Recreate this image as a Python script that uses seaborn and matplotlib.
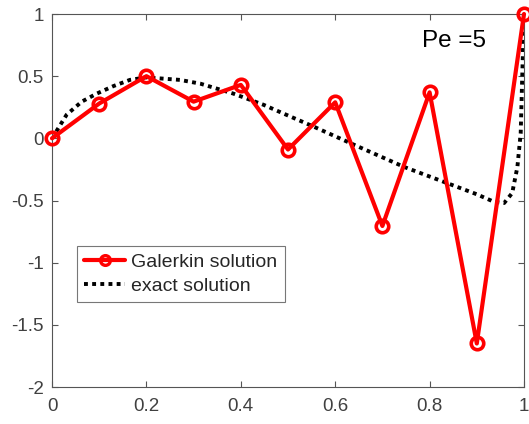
import numpy as np
import pandas as pd
import matplotlib
matplotlib.use("Agg")
import matplotlib.pyplot as plt
import seaborn as sns
from matplotlib.ticker import FuncFormatter

# Data
gal_x = [0.0, 0.1, 0.2, 0.3, 0.4, 0.5, 0.6, 0.7, 0.8, 0.9, 1.0]
gal_y = [0.0, 0.28, 0.50, 0.295, 0.43, -0.09, 0.29, -0.705, 0.37, -1.65, 1.0]

exact_x = [0.0, 0.031, 0.063, 0.095, 0.13, 0.165, 0.199, 0.236, 0.271, 0.314,
           0.384, 0.448, 0.49, 0.555, 0.633, 0.746, 0.837, 0.90, 0.936, 0.958,
           0.975, 0.986, 0.993, 0.996, 1.0]
exact_y = [0.0, 0.19, 0.295, 0.36, 0.42, 0.47, 0.49, 0.48, 0.47, 0.44,
           0.36, 0.27, 0.20, 0.093, -0.04, -0.23, -0.36, -0.45, -0.51, -0.52,
           -0.44, -0.23, 0.04, 0.46, 1.0]

x_ticks = [0, 0.2, 0.4, 0.6, 0.8, 1]
y_ticks = [-2, -1.5, -1, -0.5, 0, 0.5, 1]
annot = "Pe =5"

sns.set_style("white")
plt.rcParams['font.family'] = ['Liberation Sans', 'DejaVu Sans']

fig = plt.figure(figsize=(5.29, 4.24), dpi=100)
ax = fig.add_axes([52/529, 1-387/424, 472/529, 373/424])

gal = pd.DataFrame({"x": gal_x, "y": gal_y})
ex = pd.DataFrame({"x": exact_x, "y": exact_y})

sns.lineplot(data=gal, x="x", y="y", ax=ax, color="#ff0000", lw=3,
             marker="o", markersize=9, markerfacecolor="none",
             markeredgecolor="#ff0000", markeredgewidth=2.6,
             label="Galerkin solution", clip_on=False, zorder=3)
sns.lineplot(data=ex, x="x", y="y", ax=ax, color="black", lw=2.8,
             linestyle=(0, (1, 1.1)), label="exact solution", zorder=2)

ax.set_xlim(0, 1)
ax.set_ylim(-2, 1)
ax.set_xticks(x_ticks)
ax.set_yticks(y_ticks)
fmt = FuncFormatter(lambda v, p: ("%g" % v))
ax.xaxis.set_major_formatter(fmt)
ax.yaxis.set_major_formatter(fmt)
ax.set_xlabel("")
ax.set_ylabel("")

axc = "#404040"
for s in ax.spines.values():
    s.set_visible(True)
    s.set_color("#555555")
    s.set_linewidth(0.8)
ax.tick_params(direction="in", length=4, width=0.8, colors="#555555",
               labelcolor=axc, labelsize=13.5, top=True, right=True,
               bottom=True, left=True)
ax.tick_params(axis="x", pad=8)
ax.tick_params(axis="y", pad=6)

ax.text(422/529, 1-47/424, annot, transform=fig.transFigure, fontsize=17.5,
        color="black", ha="left", va="baseline")

leg = ax.legend(loc="upper left", bbox_to_anchor=((77-52)/472, (387-246)/373),
                borderaxespad=0, fontsize=14, frameon=True, fancybox=False,
                edgecolor="#555555", handlelength=2.1, handletextpad=0.3,
                borderpad=0.38, labelspacing=0.32)
leg.get_frame().set_linewidth(0.8)
for h in leg.legend_handles:
    h.set_markersize(7)
    h.set_markeredgewidth(2.4)

fig.savefig("out.png", dpi=100)
